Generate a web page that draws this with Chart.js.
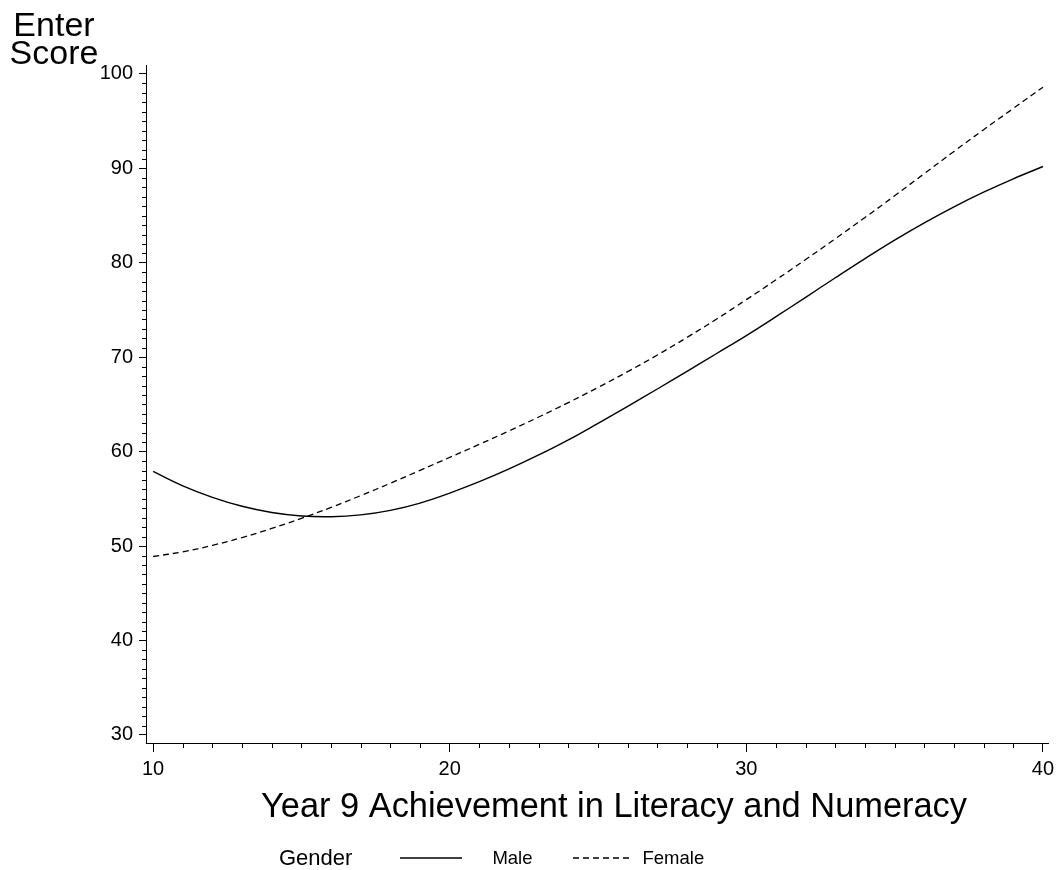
<!DOCTYPE html>
<html>
<head>
<meta charset="utf-8">
<title>Enter Score by Year 9 Achievement</title>
<script src="https://cdn.jsdelivr.net/npm/chart.js@4/dist/chart.umd.min.js"></script>
<style>
  html, body { margin: 0; padding: 0; background: #fff; }
  #wrap { position: relative; width: 1060px; height: 870px; }
  #legend {
    position: absolute; left: 279px; top: 845px; height: 26px;
    display: flex; align-items: center;
    font-family: 'Liberation Sans', Arial, sans-serif; color: #000;
  }
  #legend .head { font-size: 22px; margin-right: 48px; }
  #legend .item { font-size: 18.5px; }
  #legend svg { display: block; }
</style>
</head>
<body>
<div id="wrap">
  <canvas id="chart" width="1060" height="870"></canvas>
  <div id="legend"></div>
</div>
<script>
  var FONT = "'Liberation Sans', Arial, sans-serif";

  // achievement score (x) and fitted enter score per gender
  var achievement = [10, 11, 12, 13, 14, 15, 16, 17, 18, 19, 20, 21, 22, 23, 24, 25,
                     26, 27, 28, 29, 30, 31, 32, 33, 34, 35, 36, 37, 38, 39, 40];
  var maleScore = [57.91, 56.39, 55.17, 54.22, 53.56, 53.19, 53.11, 53.31, 53.79, 54.56, 55.62,
                   56.82, 58.17, 59.65, 61.25, 63.0, 64.8, 66.64, 68.51, 70.4, 72.3,
                   74.3, 76.35, 78.42, 80.45, 82.4, 84.23, 85.93, 87.48, 88.9, 90.2];
  var femaleScore = [48.9, 49.4, 50.08, 50.91, 51.87, 52.94, 54.1, 55.35, 56.66, 58.02, 59.4,
                     60.78, 62.2, 63.67, 65.2, 66.8, 68.48, 70.24, 72.1, 74.05, 76.1,
                     78.2, 80.35, 82.55, 84.8, 87.1, 89.45, 91.8, 94.1, 96.35, 98.6];
  var xTicks = [10, 20, 30, 40];
  var yTicks = [30, 40, 50, 60, 70, 80, 90, 100];

  var yCaption = ['Enter', 'Score'];
  var xCaption = 'Year 9 Achievement in Literacy and Numeracy';

  function points(ys) {
    return achievement.map(function(x, i) { return {x: x, y: ys[i]}; });
  }

  // short unlabelled ticks at every whole unit between the major ones
  var minorTicks = {
    id: 'minorTicks',
    afterDraw: function(chart) {
      var ctx = chart.ctx, xs = chart.scales.x, ys = chart.scales.y, area = chart.chartArea;
      ctx.save();
      ctx.strokeStyle = '#000';
      ctx.lineWidth = 1;
      ctx.beginPath();
      for (var v = Math.ceil(xs.min); v <= xs.max; v++) {
        if (v % 10 === 0) continue;
        var px = Math.round(xs.getPixelForValue(v)) + 0.5;
        ctx.moveTo(px, area.bottom);
        ctx.lineTo(px, area.bottom + 5);
      }
      for (v = Math.ceil(ys.min); v <= ys.max; v++) {
        if (v % 10 === 0) continue;
        var py = Math.round(ys.getPixelForValue(v)) + 0.5;
        ctx.moveTo(area.left - 4, py);
        ctx.lineTo(area.left, py);
      }
      ctx.stroke();
      ctx.restore();
    }
  };

  // axis captions: the y one sits above the axis unrotated,
  // the x one a bit right of the plot centre like the original layout
  var axisCaptions = {
    id: 'axisCaptions',
    afterDraw: function(chart) {
      var ctx = chart.ctx, area = chart.chartArea;
      ctx.save();
      ctx.fillStyle = '#000';
      ctx.textAlign = 'center';
      ctx.textBaseline = 'alphabetic';
      ctx.font = '34px ' + FONT;
      ctx.fillText(yCaption[0], 54, 36);
      ctx.fillText(yCaption[1], 54, 64);
      ctx.font = '34.4px ' + FONT;
      ctx.fillText(xCaption, (area.left + area.right) / 2 + 17, area.bottom + 74);
      ctx.restore();
    }
  };

  var chart = new Chart(document.getElementById('chart'), {
    type: 'line',
    data: {
      datasets: [
        {
          label: 'Male',
          data: points(maleScore),
          borderColor: '#000',
          borderWidth: 1.4,
          pointRadius: 0,
          fill: false,
          tension: 0.4
        },
        {
          label: 'Female',
          data: points(femaleScore),
          borderColor: '#000',
          borderWidth: 1.3,
          borderDash: [6, 4],
          pointRadius: 0,
          fill: false,
          tension: 0.4
        }
      ]
    },
    options: {
      responsive: false,
      animation: false,
      layout: { padding: { top: 65, right: 12, bottom: 0, left: 0 } },
      plugins: {
        legend: { display: false },
        tooltip: { enabled: false }
      },
      scales: {
        x: {
          type: 'linear',
          min: 9.76,
          max: 40.17,
          afterBuildTicks: function(s) { s.ticks = xTicks.map(function(v) { return {value: v}; }); },
          afterFit: function(s) { s.height = 127; },
          grid: { drawOnChartArea: false, tickLength: 9, tickColor: '#000', tickWidth: 1 },
          border: { color: '#000', width: 1 },
          ticks: { color: '#000', font: { family: FONT, size: 20 }, padding: 5, maxRotation: 0 }
        },
        y: {
          type: 'linear',
          min: 29.15,
          max: 100.95,
          afterBuildTicks: function(s) { s.ticks = yTicks.map(function(v) { return {value: v}; }); },
          afterFit: function(s) { s.width = 146; },
          grid: { drawOnChartArea: false, tickLength: 7, tickColor: '#000', tickWidth: 1 },
          border: { color: '#000', width: 1 },
          ticks: { color: '#000', font: { family: FONT, size: 20 }, padding: 6 }
        }
      }
    },
    plugins: [minorTicks, axisCaptions]
  });

  // legend row under the axis title, built from the datasets
  var legend = document.getElementById('legend');
  var head = document.createElement('span');
  head.className = 'head';
  head.textContent = 'Gender';
  legend.appendChild(head);

  var sampleWidth = [62, 60];
  var gapAfter = [[30, 40], [10, 0]];
  chart.data.datasets.forEach(function(ds, i) {
    var ns = 'http://www.w3.org/2000/svg';
    var svg = document.createElementNS(ns, 'svg');
    svg.setAttribute('width', sampleWidth[i]);
    svg.setAttribute('height', 6);
    svg.style.marginRight = gapAfter[i][0] + 'px';
    var line = document.createElementNS(ns, 'line');
    line.setAttribute('x1', 0);
    line.setAttribute('x2', sampleWidth[i]);
    line.setAttribute('y1', 3);
    line.setAttribute('y2', 3);
    line.setAttribute('stroke', ds.borderColor);
    line.setAttribute('stroke-width', ds.borderWidth);
    if (ds.borderDash) line.setAttribute('stroke-dasharray', ds.borderDash.join(' '));
    svg.appendChild(line);
    legend.appendChild(svg);

    var txt = document.createElement('span');
    txt.className = 'item';
    txt.style.marginRight = gapAfter[i][1] + 'px';
    txt.textContent = ds.label;
    legend.appendChild(txt);
  });
</script>
</body>
</html>
